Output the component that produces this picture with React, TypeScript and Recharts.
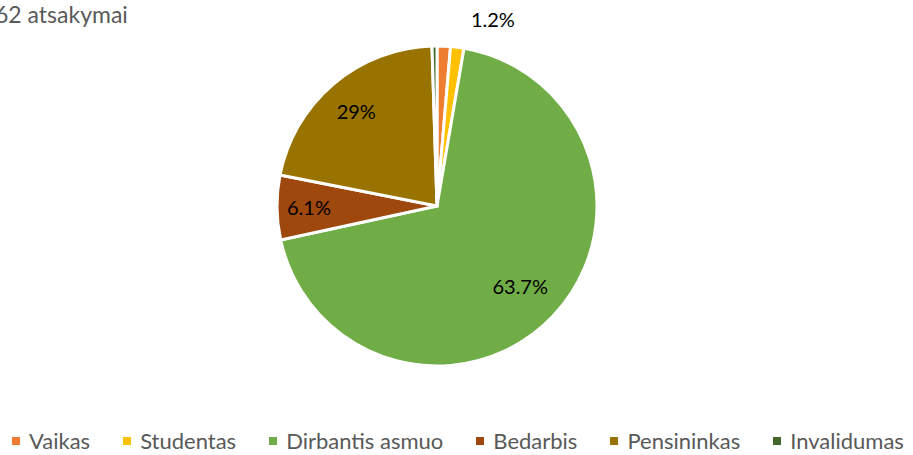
import { PieChart, Pie, Cell, Legend } from 'recharts';

const categories = ['Vaikas', 'Studentas', 'Dirbantis asmuo', 'Bedarbis', 'Pensininkas', 'Invalidumas'];
// slice sizes (share of the circle, %)
const sliceValues = [1.35, 1.35, 68.9, 6.5, 21.4, 0.5];
// data label texts as printed on the chart ('' = no label shown)
const labelTexts = ['1.2%', '', '63.7%', '6.1%', '29%', ''];
const colors = ['#ED7D31', '#FFC000', '#70AD47', '#9E480E', '#997300', '#43682B'];
const title = '62 atsakymai';

const data = categories.map((name, i) => ({ name, value: sliceValues[i], label: labelTexts[i] }));

const FONT = 'Lato, "Open Sans", sans-serif';
const RAD = Math.PI / 180;
// where each label sits, as a fraction of the radius
const labelRadius = [1.17, 0.8, 0.72, 0.8, 0.78, 0.8];

function renderLabel(props: any) {
  const { cx, cy, midAngle, outerRadius, index } = props;
  const text = labelTexts[index];
  if (!text) return null;
  const r = outerRadius * labelRadius[index];
  let x = cx + r * Math.cos(-midAngle * RAD);
  const y = cy + r * Math.sin(-midAngle * RAD);
  if (index === 0) x += 48; // excel nudged the outside label to the right
  return (
    <text x={x} y={y} fill="#000" fontSize={20} fontFamily={FONT} textAnchor="middle" dominantBaseline="central">
      {text}
    </text>
  );
}

function LegendContent() {
  return (
    <div style={{ display: 'flex', alignItems: 'center', paddingLeft: 12, fontFamily: FONT, fontSize: 22, color: '#595959', whiteSpace: 'nowrap', width: 913, boxSizing: 'border-box' }}>
      {categories.map((c, i) => (
        <div key={c} style={{ display: 'flex', alignItems: 'center', marginRight: 33, flexShrink: 0 }}>
          <span style={{ width: 8, height: 8, background: colors[i], marginRight: 9, display: 'inline-block', flexShrink: 0 }} />
          <span>{c}</span>
        </div>
      ))}
    </div>
  );
}

export default function App() {
  return (
    <div style={{ position: 'absolute', left: 0, top: 0, width: 913, height: 455, background: '#fff', overflow: 'hidden' }}>
      <div style={{ position: 'absolute', left: -5, top: 0, fontFamily: FONT, fontSize: 23, color: '#595959', whiteSpace: 'nowrap' }}>
        {title}
      </div>
      <PieChart width={913} height={455} margin={{ top: 0, right: 0, bottom: 0, left: 0 }}>
        <Pie
          data={data}
          dataKey="value"
          nameKey="name"
          cx={437}
          cy={206}
          outerRadius={160}
          startAngle={90}
          endAngle={-270}
          stroke="#fff"
          strokeWidth={3}
          label={renderLabel}
          labelLine={false}
          isAnimationActive={false}
        >
          {data.map((d, i) => (
            <Cell key={d.name} fill={colors[i]} />
          ))}
        </Pie>
        <Legend content={<LegendContent />} wrapperStyle={{ left: 0, top: 427, width: 913 }} />
      </PieChart>
    </div>
  );
}
